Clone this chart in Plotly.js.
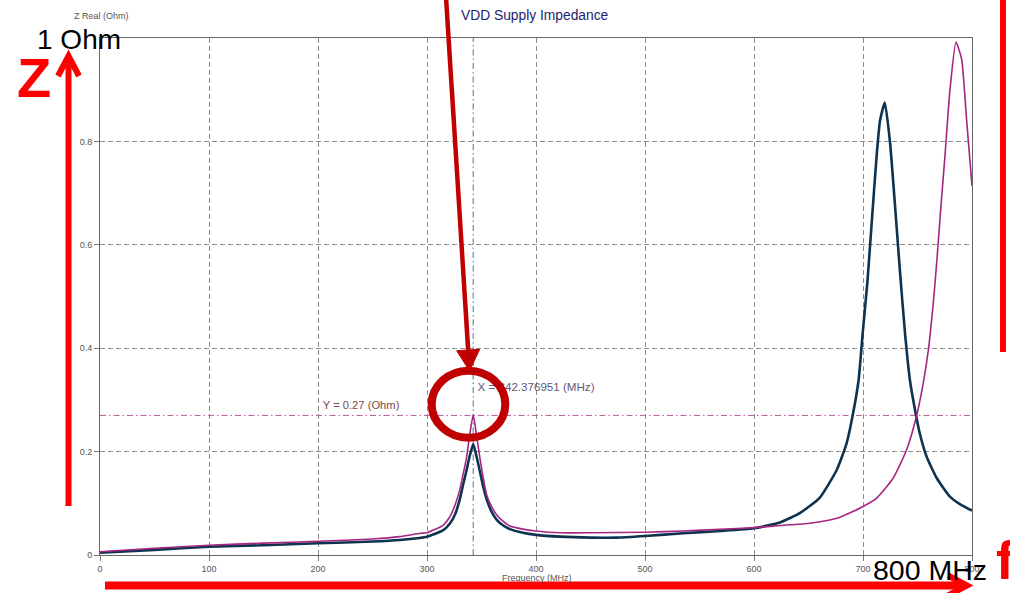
<!DOCTYPE html>
<html><head><meta charset="utf-8">
<script src="https://cdn.plot.ly/plotly-3.0.1.min.js"></script>
<style>html,body{margin:0;padding:0;background:#fff;}#chart{width:1010px;height:593px;}</style>
</head><body><div id="chart"></div>
<script>
// ---- chart text ----
const chartTitle = 'VDD Supply Impedance';
const xTitle = 'Frequency (MHz)';
const yTitle = 'Z Real (Ohm)';
const xTickVals = [0, 100, 200, 300, 400, 500, 600, 700, 800];
const yTickVals = [0, 0.2, 0.4, 0.6, 0.8];
const yTickText = ['0', '0.2', '0.4', '0.6', '0.8'];

// ---- series ----
const navyFreq = [0, 50, 100, 150, 200, 250, 275, 293, 300, 315, 321, 326, 330, 333, 336.4, 339, 342.4, 345.5, 348.6, 351.5, 354.8, 359, 364, 370, 376, 388, 400, 422, 450, 474, 500, 535, 569, 600, 624, 642, 660, 676, 685, 691, 696, 700, 704, 708, 712.5, 715.6, 720, 724.8, 729.4, 734, 738.5, 743, 747.7, 752, 758.4, 767.6, 779.8, 790, 800];
const navyZ = [0.0045, 0.010, 0.016, 0.019, 0.0226, 0.026, 0.029, 0.033, 0.0355, 0.048, 0.061, 0.08, 0.107, 0.135, 0.165, 0.19, 0.2145, 0.19, 0.161, 0.133, 0.107, 0.085, 0.068, 0.057, 0.05, 0.043, 0.039, 0.0355, 0.0336, 0.0336, 0.0368, 0.042, 0.0465, 0.0517, 0.063, 0.081, 0.11, 0.165, 0.2165, 0.275, 0.339, 0.436, 0.527, 0.643, 0.772, 0.84, 0.875, 0.798, 0.675, 0.546, 0.43, 0.339, 0.281, 0.236, 0.19, 0.149, 0.113, 0.097, 0.086];
const magentaFreq = [0, 50, 100, 150, 200, 250, 275, 294, 300, 315, 321, 326, 330, 333, 336.4, 339, 342.4, 345.5, 348.6, 351.5, 354.8, 359, 364, 370, 376, 388, 400, 422, 450, 500, 535, 569, 600, 624, 651, 676, 697, 712.5, 727.8, 740, 749, 755.3, 760, 764.5, 767.6, 772, 775.2, 779.8, 785.3, 790.5, 795, 800];
const magentaZ = [0.0064, 0.013, 0.019, 0.023, 0.0265, 0.031, 0.0355, 0.042, 0.043, 0.058, 0.074, 0.098, 0.126, 0.155, 0.19, 0.23, 0.271, 0.23, 0.187, 0.15, 0.116, 0.095, 0.0775, 0.065, 0.056, 0.05, 0.0465, 0.043, 0.043, 0.044, 0.0465, 0.0498, 0.053, 0.057, 0.0614, 0.071, 0.0905, 0.11, 0.149, 0.2035, 0.268, 0.333, 0.397, 0.488, 0.565, 0.688, 0.772, 0.9, 0.992, 0.959, 0.843, 0.714];

// ---- marker ----
const markerX = 342.376951;
const markerY = 0.27;
const markerXText = 'X = ' + markerX.toFixed(6) + ' (MHz)';
const markerYText = 'Y = ' + markerY + ' (Ohm)';

// ---- slide overlay text ----
const labelZ = 'Z';
const labelF = 'f';
const labelOhm = '1 Ohm';
const labelMHz = '800 MHz';

// ---- geometry ----
const W = 1010, H = 593, ML = 100, MR = 38, MT = 38, MB = 38;
const PW = W - ML - MR, PH = H - MT - MB;
const px = x => (x - ML) / PW;
const py = y => (MT + PH - y) / PH;
const FONT = 'Liberation Sans, Arial, sans-serif';

function seg(pts) {
  return pts.map((p, i) => (i ? 'L' : 'M') + px(p[0]).toFixed(5) + ',' + py(p[1]).toFixed(5)).join(' ');
}
function lineShape(pts, color, width) {
  return {type: 'path', xref: 'paper', yref: 'paper', path: seg(pts), line: {color: color, width: width}, layer: 'above'};
}
function filledShape(pts, color) {
  return {type: 'path', xref: 'paper', yref: 'paper', path: seg(pts) + ' Z', fillcolor: color, line: {color: color, width: 1}, layer: 'above'};
}
function chevron(x0, y0, x1, y1, headLen, headHalf) {
  const dx = x1 - x0, dy = y1 - y0, len = Math.hypot(dx, dy);
  const ux = dx / len, uy = dy / len, nx = -uy, ny = ux;
  const bx = x1 - ux * headLen, by = y1 - uy * headLen;
  return [[bx + nx * headHalf, by + ny * headHalf], [x1, y1], [bx - nx * headHalf, by - ny * headHalf]];
}

const darkRed = '#c00000';
const red = '#ff0000';

// top dark-red arrow
const tA = [446, -3], tB = [469.5, 371];
const tHead = chevron(tA[0], tA[1], tB[0], tB[1], 21, 11.5);
const tdx = tB[0] - tA[0], tdy = tB[1] - tA[1], tl = Math.hypot(tdx, tdy);
const tShaftEnd = [tB[0] - tdx / tl * 19, tB[1] - tdy / tl * 19];

const shapes = [
  // marker lines
  {type: 'line', xref: 'x', yref: 'paper', x0: markerX, x1: markerX, y0: 0, y1: 1,
   line: {color: '#3f7890', width: 1, dash: '6px,3px,1.5px,3px'}, layer: 'below'},
  {type: 'line', xref: 'paper', yref: 'y', x0: 0, x1: 1, y0: markerY, y1: markerY,
   line: {color: '#b85a9c', width: 1, dash: '6px,3px,1.5px,3px'}, layer: 'below'},
  // slide overlay
  lineShape([tA, tShaftEnd], darkRed, 4.5),
  filledShape([tHead[0], tHead[1], tHead[2]], darkRed),
  {type: 'circle', xref: 'paper', yref: 'paper', x0: px(431.7), x1: px(505.3), y0: py(437.7), y1: py(370.7),
   line: {color: darkRed, width: 8}, layer: 'above'},
  lineShape([[1003, -3], [1003, 352]], red, 6),
  lineShape([[68.5, 506], [68.5, 58]], red, 6),
  lineShape(chevron(68.5, 506, 68.5, 56, 20, 10.5), red, 6),
  lineShape([[105, 585.5], [964, 585.5]], red, 8),
  lineShape(chevron(105, 585.5, 967, 585.5, 19, 10), red, 6)
];

const annotations = [
  {xref: 'paper', yref: 'paper', x: px(535), y: py(16), text: chartTitle, showarrow: false,
   xanchor: 'center', yanchor: 'middle', font: {family: FONT, size: 13.8, color: '#1c1c6e'}},
  {xref: 'paper', yref: 'paper', x: px(101), y: py(16), text: yTitle, showarrow: false,
   xanchor: 'center', yanchor: 'middle', font: {family: FONT, size: 9, color: '#555'}},
  {xref: 'paper', yref: 'paper', x: px(537), y: py(578), text: xTitle, showarrow: false,
   xanchor: 'center', yanchor: 'middle', font: {family: FONT, size: 9, color: '#555'}},
  {xref: 'paper', yref: 'paper', x: px(34), y: py(78), text: '<b>' + labelZ + '</b>', showarrow: false,
   xanchor: 'center', yanchor: 'middle', font: {family: FONT, size: 56, color: red}},
  {xref: 'paper', yref: 'paper', x: px(1005), y: py(560), text: '<b>' + labelF + '</b>', showarrow: false,
   xanchor: 'center', yanchor: 'middle', font: {family: FONT, size: 54, color: red}},
  {xref: 'paper', yref: 'paper', x: px(35), y: py(40), text: labelOhm, showarrow: false,
   xanchor: 'left', yanchor: 'middle', font: {family: FONT, size: 28, color: '#000'}},
  {xref: 'paper', yref: 'paper', x: px(871), y: py(570), text: labelMHz, showarrow: false,
   xanchor: 'left', yanchor: 'middle', font: {family: FONT, size: 28.5, color: '#000'}}
];

const traces = [
  {x: navyFreq, y: navyZ, type: 'scatter', mode: 'lines', line: {color: '#0e3350', width: 2.6, shape: 'spline', smoothing: 0.5}, hoverinfo: 'skip', showlegend: false},
  {x: magentaFreq, y: magentaZ, type: 'scatter', mode: 'lines', line: {color: '#a52680', width: 1.6, shape: 'spline', smoothing: 0.5}, hoverinfo: 'skip', showlegend: false},
  {x: [markerX + 4], y: [markerY + 0.053], type: 'scatter', mode: 'text', text: [markerXText], textposition: 'middle right',
   textfont: {family: FONT, size: 11.6, color: '#5a5a7c'}, hoverinfo: 'skip', showlegend: false, cliponaxis: false},
  {x: [markerX - 138], y: [markerY + 0.017], type: 'scatter', mode: 'text', text: [markerYText], textposition: 'middle right',
   textfont: {family: FONT, size: 11.2, color: '#7c4848'}, hoverinfo: 'skip', showlegend: false, cliponaxis: false}
];

const axisCommon = {
  showline: true, mirror: true, linecolor: '#666', linewidth: 1,
  ticks: 'outside', ticklen: 5, tickcolor: '#777', tickwidth: 1,
  showgrid: true, gridcolor: '#8c8c8c', gridwidth: 1, griddash: '5px,3px',
  zeroline: false, tickfont: {family: FONT, size: 9, color: '#555'}, fixedrange: true
};

const layout = {
  width: W, height: H,
  margin: {l: ML, r: MR, t: MT, b: MB, pad: 0},
  paper_bgcolor: '#fff', plot_bgcolor: '#fff',
  showlegend: false,
  xaxis: Object.assign({}, axisCommon, {range: [0, 800], tickmode: 'array', tickvals: xTickVals}),
  yaxis: Object.assign({}, axisCommon, {range: [0, 1], tickmode: 'array', tickvals: yTickVals, ticktext: yTickText}),
  shapes: shapes,
  annotations: annotations
};

Plotly.newPlot('chart', traces, layout, {staticPlot: true, displayModeBar: false});
</script>
</body></html>
